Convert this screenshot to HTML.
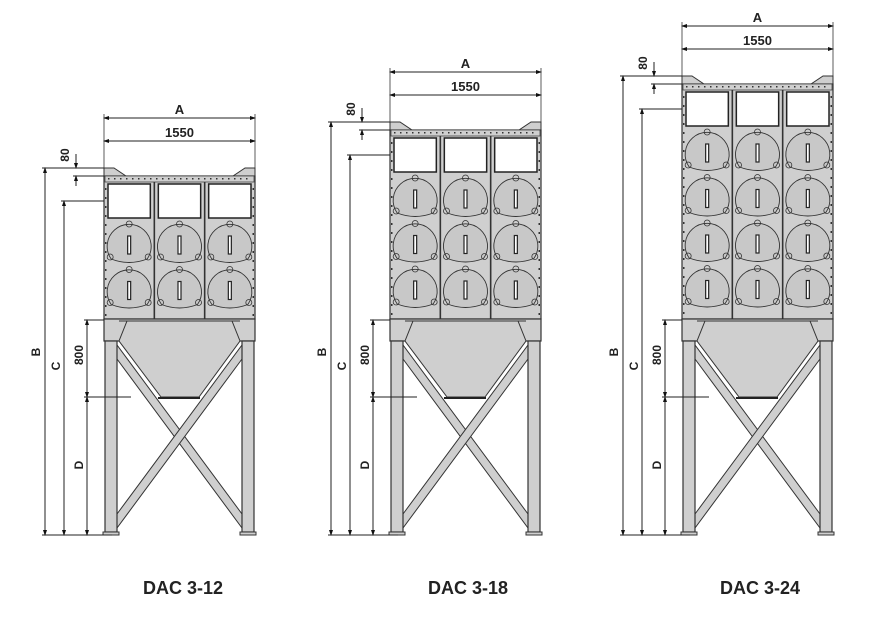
<!DOCTYPE html>
<html><head><meta charset="utf-8"><style>
html,body{margin:0;padding:0;background:#fff;width:884px;height:622px;overflow:hidden}
svg{display:block}
text{font-family:"Liberation Sans",Arial,sans-serif;font-weight:bold;fill:#222}
</style></head><body>
<svg id="s" width="884" height="622" viewBox="0 0 884 622" xmlns="http://www.w3.org/2000/svg">
<defs>
<marker id="ar" markerWidth="6" markerHeight="6" refX="5" refY="3" orient="auto-start-reverse" markerUnits="userSpaceOnUse"><path d="M0,1 L6,3 L0,5z" fill="#111"/></marker>
</defs>
<g id="g"></g>
<text x="183" y="594" font-size="18" text-anchor="middle">DAC 3-12</text>
<text x="468" y="594" font-size="18" text-anchor="middle">DAC 3-18</text>
<text x="760" y="594" font-size="18" text-anchor="middle">DAC 3-24</text>
</svg>
<script>
var out='';
function L(x1,y1,x2,y2,w,c,extra){out+='<line x1="'+x1+'" y1="'+y1+'" x2="'+x2+'" y2="'+y2+'" stroke="'+(c||'#222')+'" stroke-width="'+(w||1)+'" '+(extra||'')+'/>';}
function R(x,y,w,h,f,s,sw){out+='<rect x="'+x+'" y="'+y+'" width="'+w+'" height="'+h+'" fill="'+f+'" stroke="'+(s||'#333')+'" stroke-width="'+(sw||1)+'"/>';}
function P(d,f,s,sw){out+='<path d="'+d+'" fill="'+f+'" stroke="'+(s||'#333')+'" stroke-width="'+(sw||1)+'"/>';}
function T(x,y,t,rot,fs){out+='<text x="'+x+'" y="'+y+'" font-size="'+(fs||12)+'" text-anchor="middle" '+(rot?'transform="rotate(-90 '+x+' '+y+')"':'')+'>'+t+'</text>';}
function unit(x0,top,rows,dimX){
 var W=151,x1=x0+W,G='#cfcfcf',hop=319;
 var win=top+16, wb=win+34;
 P('M'+x0+','+(top+8)+' L'+x0+','+top+' L'+(x0+10)+','+top+' L'+(x0+22)+','+(top+8)+' L'+(x1-22)+','+(top+8)+' L'+(x1-10)+','+top+' L'+x1+','+top+' L'+x1+','+(top+8)+'z',G);
 R(x0,top+8,W,hop-top-8,G,'#333',1.2);
 R(x0+1,top+8,W-2,6,G,'#444',0.8);
 for(var i=0;i<24;i++){R(x0+4+i*6,top+10,1.5,1.5,'#333','none');}
 var cw=W/3;
 for(var c=0;c<3;c++){
  var cx=x0+c*cw;
  R(cx+4,win,cw-8,34,'#fff','#222',1.5);
  if(c>0)L(cx,top+14,cx,hop,1.6,'#333');
  for(var r=0;r<rows;r++){
   var cy=wb+27+r*45.5, ccx=cx+cw/2;
   P('M'+(ccx-18)+','+(cy+14)+' A22,22 0 1 1 '+(ccx+18)+','+(cy+14)+' Q'+ccx+','+(cy+21)+' '+(ccx-18)+','+(cy+14)+'z','#c8c8c8','#333',0.9);
   R(ccx-1.5,cy-9,3,18,'#fff','#222',1.2);
   out+='<circle cx="'+ccx+'" cy="'+(cy-21)+'" r="3" fill="none" stroke="#333" stroke-width="0.8"/>';
   out+='<circle cx="'+(ccx-19)+'" cy="'+(cy+12)+'" r="3" fill="none" stroke="#333" stroke-width="0.8"/>';
   out+='<circle cx="'+(ccx+19)+'" cy="'+(cy+12)+'" r="3" fill="none" stroke="#333" stroke-width="0.8"/>';
  }
 }
 for(var y=top+20;y<hop;y+=9){R(x0+1,y,1.5,2,'#333','none');R(x1-2.5,y,1.5,2,'#333','none');}
 R(x0,hop,W,22,G,'#333',1.2);
 L(x0+15,hop+2,x1-15,hop+2,1,'#333');
 var lb=532;
 P('M'+(x0+13)+','+(hop+26)+' L'+(x0+13)+','+(hop+40)+' L'+(x1-13)+','+(lb-4)+' L'+(x1-13)+','+(lb-18)+'z',G,'#333',1);
 P('M'+(x1-13)+','+(hop+26)+' L'+(x1-13)+','+(hop+40)+' L'+(x0+13)+','+(lb-4)+' L'+(x0+13)+','+(lb-18)+'z',G,'#333',1);
 P('M'+(x0+23)+','+(hop+2)+' L'+(x1-23)+','+(hop+2)+' L'+(x1-15)+','+(hop+22)+' L'+(x0+95)+','+(hop+78)+' L'+(x0+57)+','+(hop+78)+' L'+(x0+15)+','+(hop+22)+'z',G,'#333',1);
 L(x0+54,hop+79,x0+96,hop+79,2,'#222');
 R(x0+1,hop+22,12,lb-hop-22,G,'#333',1.2);
 R(x1-13,hop+22,12,lb-hop-22,G,'#333',1.2);
 R(x0-1,lb,16,3,G,'#333',1);R(x1-15,lb,16,3,G,'#333',1);
 var ay=top-50, by=top-27;
 L(x0,ay-4,x0,top,0.8,'#333');L(x1,ay-4,x1,top,0.8,'#333');
 L(x0,ay,x1,ay,1,'#222','marker-start="url(#ar)" marker-end="url(#ar)"');
 L(x0,by,x1,by,1,'#222','marker-start="url(#ar)" marker-end="url(#ar)"');
 T((x0+x1)/2,ay-4,'A',0,13);T((x0+x1)/2,by-4,'1550',0,13);
 var bx=dimX, cx2=dimX+19, dx=dimX+42, d8=dimX+31;
 L(bx-3,top,x0,top,1);L(d8-3,top+8,x0,top+8,1);L(cx2-3,win+17,x0,win+17,1);
 L(dx-3,hop+1,x0,hop+1,1);L(dx-3,hop+78,dimX+86,hop+78,1);L(bx-3,lb+3,x0+8,lb+3,1);
 L(d8,top-14,d8,top,1,'#222','marker-end="url(#ar)"');L(d8,top+18,d8,top+8,1,'#222','marker-end="url(#ar)"');
 T(d8-7,top-13,'80',1,12);
 L(bx,top,bx,lb+3,1,'#222','marker-start="url(#ar)" marker-end="url(#ar)"');
 L(cx2,win+17,cx2,lb+3,1,'#222','marker-start="url(#ar)" marker-end="url(#ar)"');
 L(dx,hop+1,dx,hop+78,1,'#222','marker-start="url(#ar)" marker-end="url(#ar)"');
 L(dx,hop+78,dx,lb+3,1,'#222','marker-start="url(#ar)" marker-end="url(#ar)"');
 T(bx-5,352,'B',1,12);T(cx2-4,366,'C',1,12);T(dx-4,355,'800',1,12);T(dx-4,465,'D',1,12);
}
unit(104,168,2,45);
unit(390,122,3,331);
unit(682,76,4,623);
document.getElementById('g').innerHTML=out;
</script>
</body></html>
